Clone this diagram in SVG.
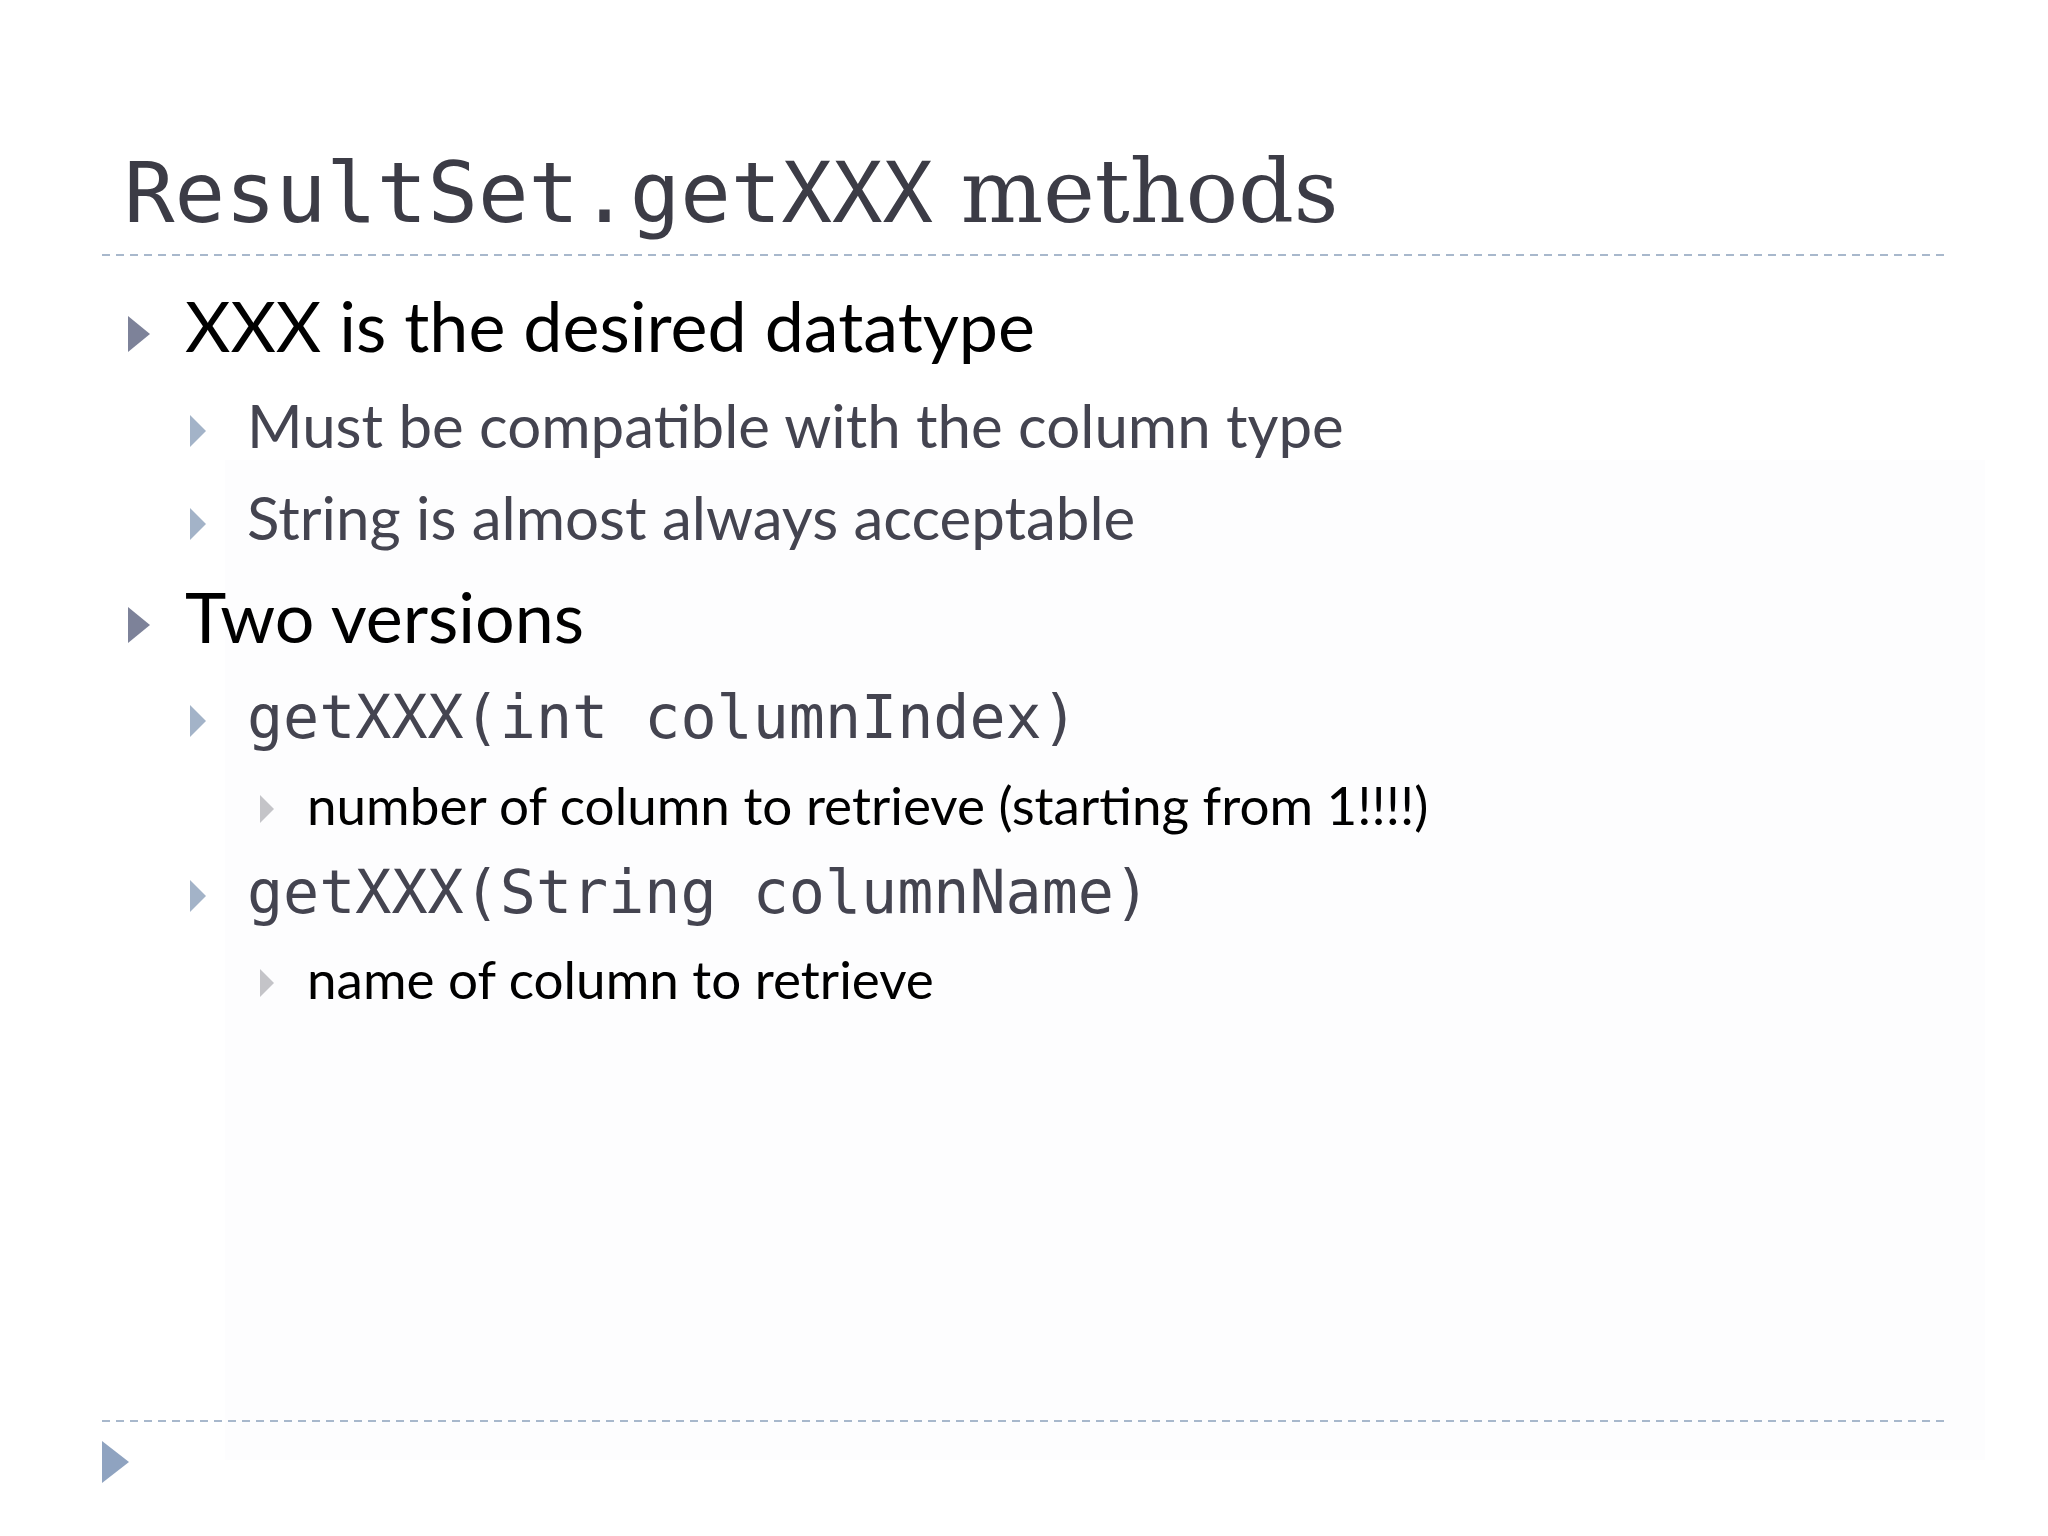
<svg xmlns="http://www.w3.org/2000/svg" width="2048" height="1536" viewBox="0 0 2048 1536">
<style>
.b1{fill:#7d8299}.b2{fill:#a3b3c8}.b3{fill:#c4c4c8}
.t1{font-family:Lato,"Open Sans",sans-serif;font-size:70px;fill:#000}
.t2{font-family:Lato,"Open Sans",sans-serif;font-size:60px;fill:#444450}
.t3{font-family:Lato,"Open Sans",sans-serif;font-size:53px;fill:#000}
.m{font-family:"DejaVu Sans Mono","Liberation Mono",monospace;font-size:60px;fill:#444450}
.dash{stroke:#a8b8cc;stroke-width:2;stroke-dasharray:8 6}
</style>
<rect width="2048" height="1536" fill="#ffffff"/>
<rect x="225" y="460" width="1760" height="1000" fill="#fdfdfe"/>
<g id="title"><text x="124" y="222" style="font-family:'DejaVu Sans Mono',monospace;font-size:84px;fill:#3c3c46">ResultSet.getXXX<tspan style="font-family:'DejaVu Serif','Liberation Serif',serif;font-size:87px"> methods</tspan></text></g>
<line class="dash" x1="102" y1="255" x2="1946" y2="255"/>
<line class="dash" x1="102" y1="1421" x2="1946" y2="1421"/>
<g id="bullet1"><polygon class="b1" points="128,316 150,334 128,352"/><text class="t1" x="185" y="352">XXX is the desired datatype</text></g>
<g id="sub1"><polygon class="b2" points="190,415 206,431 190,447"/><text class="t2" x="247" y="448">Must be compatible with the column type</text></g>
<g id="sub2"><polygon class="b2" points="190,508 206,524 190,540"/><text class="t2" x="247" y="540">String is almost always acceptable</text></g>
<g id="bullet2"><polygon class="b1" points="128,607 150,625 128,643"/><text class="t1" x="185" y="643">Two versions</text></g>
<g id="sub3"><polygon class="b2" points="190,705 206,721 190,737"/><text class="m" x="247" y="738">getXXX(int columnIndex)</text></g>
<g id="sub3a"><polygon class="b3" points="260,795 274,809 260,823"/><text class="t3" x="307" y="825">number of column to retrieve (starting from 1!!!!)</text></g>
<g id="sub4"><polygon class="b2" points="190,880 206,896 190,912"/><text class="m" x="247" y="913">getXXX(String columnName)</text></g>
<g id="sub4a"><polygon class="b3" points="260,969 274,983 260,997"/><text class="t3" x="307" y="999">name of column to retrieve</text></g>
<polygon points="102,1441 129,1462 102,1483" fill="#8fa3c0"/>
</svg>
